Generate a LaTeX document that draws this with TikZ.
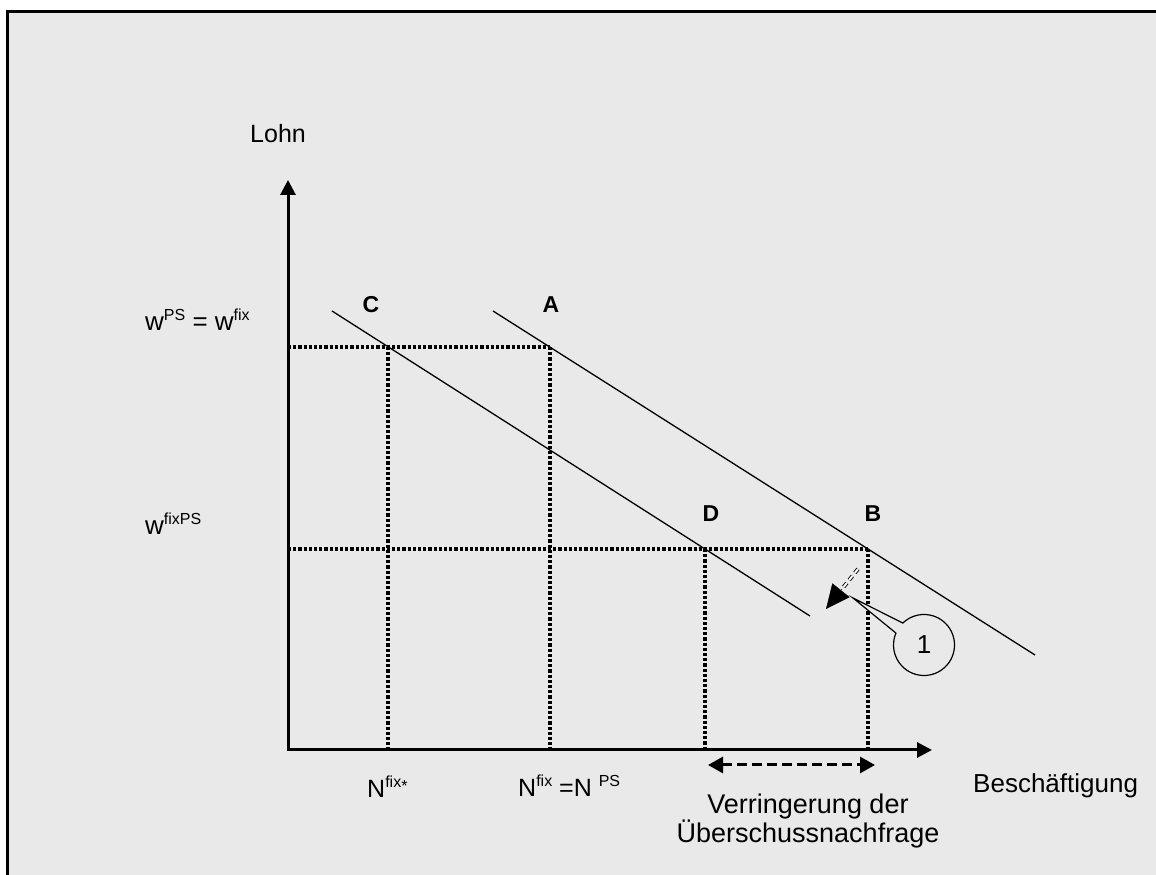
\documentclass[tikz,border=0pt]{standalone}
\usepackage{fontspec}
\setmainfont{Liberation Sans}
\usetikzlibrary{arrows.meta}
\definecolor{hgrau}{RGB}{233,233,233}
\newcommand{\hoch}[1]{\raisebox{0.4em}{\fontsize{16}{16}\selectfont #1}}

\begin{document}
\begin{tikzpicture}[
        x=1pt, y=1pt,
        achse/.style={
            line width=3pt, 
            {Triangle[length=15pt,width=15pt]}-{Triangle[length=15pt,width=15pt]}
        },
        kurve/.style={line width=1.3pt},
        hilfslinie/.style={line width=3.2pt, dash pattern=on 3.2pt off 2pt},
        punkt/.style={inner sep=0pt, font=\fontsize{23}{23}\selectfont\bfseries},
        beschr/.style={inner sep=0pt, anchor=base west, font=\fontsize{25}{25}\selectfont},
        wbeschr/.style={inner sep=0pt, anchor=base west, font=\fontsize{26}{26}\selectfont},
        zweizeiler/.style={inner sep=0pt, anchor=base, font=\fontsize{27}{27}\selectfont},
        doppelpfeil/.style={
            line width=3pt, dash pattern=on 10pt off 5pt,
            {Triangle[length=15pt,width=16pt]}-{Triangle[length=15pt,width=16pt]}
        },
        zeigerlinie/.style={double, double distance=2pt, line width=0.9pt, dash pattern=on 5pt off 4pt},
        blase/.style={draw, fill=hgrau, line width=1.2pt}
    ]
    \useasboundingbox (0,0) rectangle (1156,875);
    \fill[white] (0,0) rectangle (1156,875);
    \fill[hgrau] (7,0) rectangle (1156,863);
    \draw[line width=3pt] (7,0) -- (7,863) -- (1156,863);

    % Puntos con coordenadas fijas
    \coordinate (O) at (288,125);
    \coordinate (yend) at (288,695);
    \coordinate (xend) at (932,125);
    \coordinate (wps) at (288,528);
    \coordinate (wfixps) at (288,326);
    \coordinate (C1) at (388,528);
    \coordinate (A1) at (550,528);
    \coordinate (D1) at (705,326);
    \coordinate (B1) at (868,326);
    \coordinate (C0) at (388,125);
    \coordinate (A0) at (550,125);
    \coordinate (D0) at (705,125);
    \coordinate (B0) at (868,125);
    \coordinate (nachfrage1) at (332,564);
    \coordinate (nachfrage2) at (810,259);
    \coordinate (angebot1) at (493,564);
    \coordinate (angebot2) at (1035,220);

    % Achsen und Kurven
    \draw[achse] (yend) |- (xend);
    \draw[kurve] (nachfrage1) -- (nachfrage2);
    \draw[kurve] (angebot1) -- (angebot2);

    % Hilfslinien
    \draw[hilfslinie] (wps) -- (A1);
    \draw[hilfslinie] (wfixps) -- (B1);
    \draw[hilfslinie] (C1) -- (C0);
    \draw[hilfslinie] (A1) -- (A0);
    \draw[hilfslinie] (D1) -- (D0);
    \draw[hilfslinie] (B1) -- (B0);

    % Beschriftungen
    \node[punkt] (C) at (371,570) {C};
    \node[punkt] (A) at (551,570) {A};
    \node[punkt] (D) at (711,361) {D};
    \node[punkt] (B) at (873,361) {B};
    \node[beschr] (lohn) at (250,732) {Lohn};
    \node[wbeschr] (wpslabel) at (145,544) {w\hoch{PS} = w\hoch{fix}};
    \node[wbeschr] (wfixpslabel) at (145,340) {w\hoch{fixPS}};
    \node[beschr] (nfixstern) at (367,77) {N\hoch{fix\raisebox{-0.25em}{*}}};
    \node[beschr] (nfix) at (518,78) {N\hoch{fix} =N \hoch{PS}};
    \node[zweizeiler] (verr1) at (808,61) {Verringerung der};
    \node[zweizeiler] (verr2) at (808,32) {Überschussnachfrage};
    \node[beschr, font=\fontsize{26}{26}\selectfont] (besch) at (973,82) {Beschäftigung};

    % Pfeile
    \coordinate (links) at (708,110);
    \coordinate (rechts) at (875,110);
    \draw[doppelpfeil] (links) -- (rechts);

    \coordinate (pfeil1) at (858,306);
    \coordinate (pfeil2) at (842,286);
    \coordinate (pfeil3) at (826,266);
    \draw[zeigerlinie] (pfeil1) -- (pfeil2);
    \draw[-{Triangle[length=24pt,width=22pt]}] (pfeil2) -- (pfeil3);

    % Sprechblase
    \coordinate (zeiger) at (853,277);
    \coordinate (einsM) at (924,230);
    \draw[blase] (zeiger) -- ([shift={(134:30.5)}]einsM) arc[start angle=134, end angle=-203, radius=30.5] -- cycle;
    \node[inner sep=0pt, font=\fontsize{26}{26}\selectfont] (eins) at (einsM) {1};
\end{tikzpicture}
\end{document}
